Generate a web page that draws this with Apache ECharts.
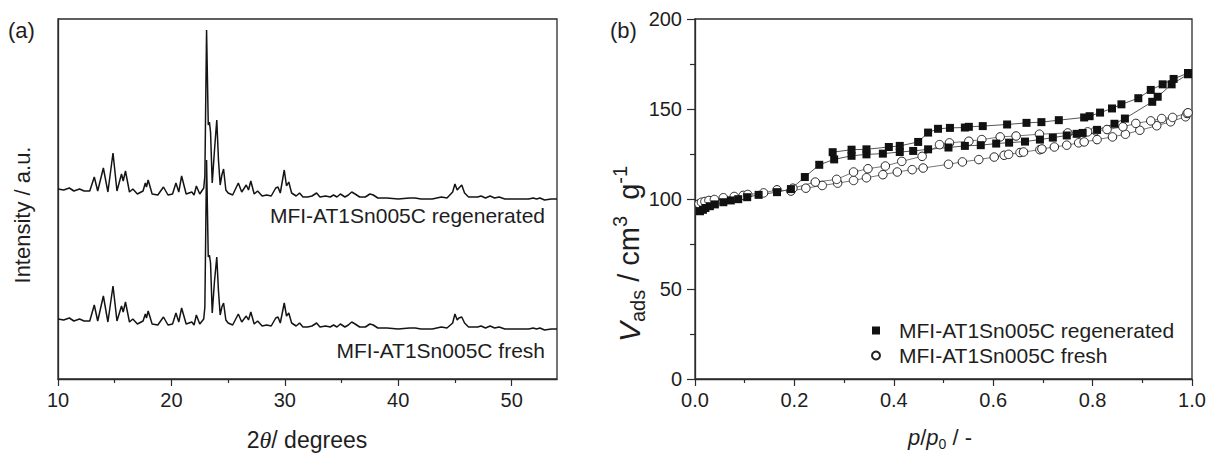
<!DOCTYPE html>
<html>
<head>
<meta charset="utf-8">
<script src="https://cdn.jsdelivr.net/npm/echarts@6/dist/echarts.min.js"></script>
<style>
html,body{margin:0;padding:0;background:#fff;}
#chart{width:1213px;height:453px;}
</style>
</head>
<body>
<div id="chart"></div>
<script>
// ---------- Panel (a): XRD patterns ----------
const twoTheta = [10.0,10.5,11.0,11.4,11.9,12.3,12.8,13.2,13.5,14.0,
  14.4,14.85,15.2,15.6,15.75,15.95,16.3,16.6,17.0,17.5,
  17.7,17.8,17.95,18.3,18.8,19.3,19.7,20.1,20.4,20.65,
  20.9,21.3,21.8,22.0,22.2,22.5,22.85,22.95,23.1,23.25,
  23.35,23.45,23.6,23.8,24.0,24.15,24.3,24.45,24.6,24.8,
  25.0,25.4,25.9,26.2,26.6,26.8,27.0,27.3,27.6,28.0,
  28.4,28.8,29.2,29.4,29.6,29.95,30.15,30.35,30.6,31.0,
  31.3,31.6,32.0,32.4,32.8,33.1,33.6,34.0,34.3,34.6,
  34.9,35.3,35.6,35.9,36.2,36.6,37.1,37.5,37.8,38.2,
  39.0,40.0,41.0,41.5,42.0,43.0,43.8,44.3,44.8,45.0,
  45.2,45.35,45.6,45.85,46.2,46.6,47.0,47.3,47.7,48.1,
  48.5,48.9,49.4,50.2,51.0,51.5,51.9,52.2,52.5,52.9,
  53.5,54.0];
const intensityRegenerated = [190,189,191,188,190,188,188,202,188,211,
  187,226,188,205,198,208,187,190,185,188,
  196,192,199,185,184,192,184,185,196,187,
  203,185,187,184,193,185,191,203,349,254,
  257,247,196,229,259,219,194,204,210,189,
  186,184,196,187,194,189,198,185,188,183,
  184,183,191,192,186,209,193,197,186,183,
  186,182,182,183,186,182,183,182,184,182,
  185,182,184,187,185,182,182,185,184,181,
  181,180,181,181,180,180,182,181,187,195,
  189,191,194,186,182,182,182,183,181,183,
  181,182,180,180,180,180,181,180,181,179,
  180,180];
const intensityFresh = [60,59,61,58,60,58,58,74,58,83,
  57,93,58,73,67,77,57,60,55,58,
  65,61,68,55,54,62,54,55,66,57,
  71,55,57,54,64,55,60,72,219,122,
  124,116,66,98,122,88,64,72,76,59,
  56,54,65,57,63,59,67,55,58,53,
  54,53,61,62,56,76,63,66,56,53,
  56,52,52,53,56,52,53,52,54,52,
  55,52,54,57,55,52,52,55,54,51,
  51,50,51,51,50,50,52,51,56,65,
  59,61,62,56,52,52,52,53,51,53,
  51,52,50,50,50,50,51,50,51,49,
  50,50];
const xrdTickLabels = [10,20,30,40,50];
const xrdMinorTicks = [15,25,35,45];

// ---------- Panel (b): N2 isotherms ----------
const pRegAds = [0.010,0.016,0.021,0.030,0.040,0.057,0.072,0.087,0.105,0.128,
  0.165,0.193,0.221,0.250,0.280,0.315,0.345,0.378,0.412,0.439,
  0.469,0.510,0.543,0.575,0.606,0.632,0.664,0.694,0.720,0.748,
  0.768,0.780,0.809,0.844,0.865,0.920,0.931,0.959,0.992];
const vRegAds = [93.2,94.0,95.0,96.0,97.0,98.2,99.2,99.9,101.0,102.3,
  103.8,105.5,112.2,119.0,122.0,124.0,124.8,125.2,126.1,126.7,
  127.6,128.6,129.5,129.9,130.8,131.3,131.9,133.0,134.1,135.3,
  136.2,136.7,138.4,141.8,144.7,154.0,156.8,163.7,169.3];
const pRegDes = [0.992,0.963,0.941,0.917,0.892,0.858,0.839,0.815,0.794,0.783,
  0.732,0.697,0.667,0.628,0.579,0.551,0.543,0.513,0.489,0.469,
  0.449,0.412,0.390,0.345,0.315,0.277];
const vRegDes = [170.0,166.7,163.7,160.6,156.0,152.6,150.3,148.0,146.0,145.3,
  143.8,142.7,142.3,141.4,140.5,140.1,139.7,139.5,139.0,136.9,
  131.7,129.5,128.9,127.6,127.4,126.0];
const pFreshAds = [0.008,0.013,0.020,0.028,0.039,0.057,0.079,0.097,0.106,0.138,
  0.165,0.193,0.223,0.256,0.287,0.319,0.345,0.378,0.407,0.437,
  0.459,0.510,0.538,0.571,0.602,0.622,0.631,0.654,0.661,0.694,
  0.698,0.723,0.748,0.772,0.783,0.809,0.840,0.866,0.895,0.929,
  0.957,0.987,0.990];
const vFreshAds = [97.3,98.2,98.6,99.2,99.7,100.7,101.4,102.0,102.5,103.4,
  105.1,104.4,106.0,107.5,108.8,110.3,111.8,113.5,115.0,116.3,
  117.2,119.3,120.6,121.9,123.3,124.3,124.8,125.8,126.1,127.4,
  127.8,128.9,129.9,131.2,131.7,133.0,134.5,136.0,138.2,140.7,
  142.9,145.7,147.5];
const pFreshDes = [0.992,0.961,0.939,0.917,0.887,0.861,0.829,0.806,0.790,0.750,
  0.693,0.646,0.614,0.577,0.551,0.512,0.492,0.457,0.416,0.383,
  0.348,0.319,0.285,0.242,0.197];
const vFreshDes = [147.9,145.3,144.7,143.4,142.0,140.1,138.6,137.9,137.3,136.7,
  136.0,135.0,134.5,133.0,132.1,131.2,130.2,123.7,120.9,118.3,
  116.8,115.0,110.9,109.4,106.0];

const nameRegenerated = 'MFI-AT1Sn005C regenerated';
const nameFresh = 'MFI-AT1Sn005C fresh';

// ---------- build ----------
const FF = '"Liberation Sans", Arial, Helvetica, sans-serif';
const INK = '#1e1e1e';
const AX = '#2b2b2b';
const zip = (xs, ys) => xs.map((x, i) => [x, ys[i]]);
const regLoop = zip(pRegAds, vRegAds).concat(zip(pRegDes, vRegDes));
const freshLoop = zip(pFreshAds, vFreshAds).concat(zip(pFreshDes, vFreshDes));

const chart = echarts.init(document.getElementById('chart'), null, {renderer: 'svg'});
const axLine = {show: true, onZero: false, lineStyle: {color: AX, width: 1.3}};
const tickStyle = {color: AX, width: 1.2};

const option = {
  animation: false,
  backgroundColor: '#fff',
  grid: [
    {left: 58, top: 19, width: 499, height: 360, show: true, borderColor: AX, borderWidth: 1.3, backgroundColor: 'transparent', containLabel: false, outerBoundsMode: 'none'},
    {left: 695, top: 19, width: 497, height: 360, show: true, borderColor: AX, borderWidth: 1.3, backgroundColor: 'transparent', containLabel: false, outerBoundsMode: 'none'}
  ],
  xAxis: [
    {gridIndex: 0, type: 'value', min: 10, max: 54, interval: 10, position: 'bottom',
     axisLine: axLine, splitLine: {show: false},
     axisTick: {show: true, length: 7, customValues: xrdTickLabels, lineStyle: tickStyle},
     axisLabel: {customValues: xrdTickLabels, margin: 11, fontSize: 20, color: INK, fontFamily: FF}},
    {gridIndex: 0, type: 'value', min: 10, max: 54, interval: 5, position: 'bottom',
     axisLine: {show: false}, splitLine: {show: false}, axisLabel: {show: false},
     axisTick: {show: true, length: 4, customValues: xrdMinorTicks, lineStyle: tickStyle}},
    {gridIndex: 1, type: 'value', min: 0, max: 1, interval: 0.2, position: 'bottom',
     axisLine: axLine, splitLine: {show: false},
     axisTick: {show: true, length: 7, lineStyle: tickStyle},
     minorTick: {show: true, splitNumber: 2, length: 4, lineStyle: tickStyle},
     axisLabel: {margin: 11, fontSize: 20, color: INK, fontFamily: FF, formatter: v => v.toFixed(1)}}
  ],
  yAxis: [
    {gridIndex: 0, type: 'value', min: 0, max: 360, axisLine: axLine,
     axisTick: {show: false}, axisLabel: {show: false}, splitLine: {show: false}},
    {gridIndex: 1, type: 'value', min: 0, max: 200, interval: 50, axisLine: axLine,
     splitLine: {show: false},
     axisTick: {show: true, length: 8, lineStyle: tickStyle},
     minorTick: {show: true, splitNumber: 2, length: 5, lineStyle: tickStyle},
     axisLabel: {margin: 13, fontSize: 20, color: INK, fontFamily: FF}}
  ],
  legend: {
    orient: 'vertical', left: 866, top: 315, itemWidth: 8, itemHeight: 8, itemGap: 4,
    selectedMode: false,
    textStyle: {fontSize: 21, color: INK, fontFamily: FF, lineHeight: 21, padding: [0, 0, 0, 14]},
    data: [{name: nameRegenerated, icon: 'rect'}, {name: nameFresh, icon: 'circle'}]
  },
  series: [
    {type: 'line', name: 'xrdRegenerated', xAxisIndex: 0, yAxisIndex: 0, showSymbol: false, symbol: 'none',
     lineStyle: {color: '#141414', width: 1.5}, data: zip(twoTheta, intensityRegenerated), silent: true},
    {type: 'line', name: 'xrdFresh', xAxisIndex: 0, yAxisIndex: 0, showSymbol: false, symbol: 'none',
     lineStyle: {color: '#141414', width: 1.5}, data: zip(twoTheta, intensityFresh), silent: true},
    {type: 'line', name: nameFresh, xAxisIndex: 2, yAxisIndex: 1, symbol: 'circle', symbolSize: 8.5,
     itemStyle: {color: '#fff', borderColor: '#222', borderWidth: 1},
     lineStyle: {color: '#777', width: 1}, data: freshLoop, silent: true},
    {type: 'line', name: nameRegenerated, xAxisIndex: 2, yAxisIndex: 1, symbol: 'rect', symbolSize: 8,
     itemStyle: {color: '#111'},
     lineStyle: {color: '#555', width: 1}, data: regLoop, silent: true}
  ],
  graphic: [
    {type: 'text', x: 8, y: 30, style: {text: '(a)', font: '22px ' + FF, fill: INK, verticalAlign: 'middle', align: 'left'}},
    {type: 'text', x: 610, y: 30, style: {text: '(b)', font: '22px ' + FF, fill: INK, verticalAlign: 'middle', align: 'left'}},
    {type: 'text', x: 545, y: 215, style: {text: nameRegenerated, font: '21px ' + FF, fill: INK, align: 'right', verticalAlign: 'middle'}},
    {type: 'text', x: 545, y: 350, style: {text: nameFresh, font: '21px ' + FF, fill: INK, align: 'right', verticalAlign: 'middle'}},
    {type: 'text', x: 22, y: 215, rotation: Math.PI / 2,
     style: {text: 'Intensity / a.u.', font: '22px ' + FF, fill: INK, align: 'center', verticalAlign: 'middle'}},
    {type: 'text', x: 307, y: 440,
     style: {text: '{n|2}{t|θ}{n|/ degrees}', fill: INK, align: 'center', verticalAlign: 'middle',
       rich: {n: {fontSize: 23, fontFamily: FF, fill: INK, lineHeight: 26},
              t: {fontSize: 24, fontFamily: '"Liberation Serif", "DejaVu Serif", serif', fontStyle: 'italic', fill: INK, lineHeight: 26}}}},
    {type: 'text', x: 629, y: 254, rotation: Math.PI / 2,
     style: {text: '{i|V}{s|ads}{n| / cm}{u|3}{n|  g}{u|-1}', fill: INK, align: 'center', verticalAlign: 'middle',
       rich: {i: {fontSize: 30, fontFamily: FF, fontStyle: 'italic', fill: INK, lineHeight: 38},
              n: {fontSize: 29, fontFamily: FF, fill: INK, lineHeight: 38},
              s: {fontSize: 20, fontFamily: FF, fill: INK, lineHeight: 18, verticalAlign: 'bottom'},
              u: {fontSize: 20, fontFamily: FF, fill: INK, lineHeight: 18, verticalAlign: 'top'}}}},
    {type: 'text', x: 940, y: 437,
     style: {text: '{i|p}{n|/}{i|p}{s|0}{n| / -}', fill: INK, align: 'center', verticalAlign: 'middle',
       rich: {i: {fontSize: 22, fontFamily: FF, fontStyle: 'italic', fill: INK, lineHeight: 28},
              n: {fontSize: 22, fontFamily: FF, fill: INK, lineHeight: 28},
              s: {fontSize: 14, fontFamily: FF, fill: INK, lineHeight: 14, verticalAlign: 'bottom'}}}}
  ]
};
chart.setOption(option);
</script>
</body>
</html>
